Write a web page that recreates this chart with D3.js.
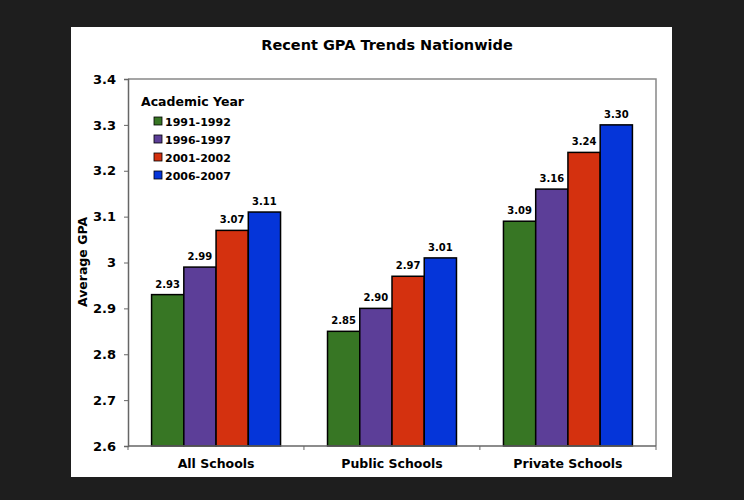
<!DOCTYPE html>
<html>
<head>
<meta charset="utf-8">
<script src="https://cdn.jsdelivr.net/npm/d3@7"></script>
<style>
  body { margin: 0; background: #1e1e1e; }
  text { font-family: "DejaVu Sans", Verdana, sans-serif; font-weight: bold; fill: #000; }
</style>
</head>
<body>
<div id="chart"></div>
<script>
// Données
const ecoles = ["All Schools", "Public Schools", "Private Schools"];
const annees = ["1991-1992", "1996-1997", "2001-2002", "2006-2007"];
const couleurs = ["#377624", "#5c3e98", "#d4310f", "#0535d9"];
const gpa_1991 = [2.93, 2.85, 3.09];
const gpa_1996 = [2.99, 2.90, 3.16];
const gpa_2001 = [3.07, 2.97, 3.24];
const gpa_2006 = [3.11, 3.01, 3.30];
const ticks_y = [2.6, 2.7, 2.8, 2.9, 3.0, 3.1, 3.2, 3.3, 3.4];
const labels_y = ["2.6", "2.7", "2.8", "2.9", "3", "3.1", "3.2", "3.3", "3.4"];

const series = [gpa_1991, gpa_1996, gpa_2001, gpa_2006];

const svg = d3.select("#chart").append("svg")
  .attr("width", 744).attr("height", 500);

svg.append("rect").attr("width", 744).attr("height", 500).attr("fill", "#1e1e1e");
// panneau blanc
svg.append("rect").attr("x", 71).attr("y", 27).attr("width", 601).attr("height", 450).attr("fill", "#fff");

const gauche = 128, droite = 656, haut = 79, bas = 446;

const x = d3.scaleBand().domain(ecoles).range([gauche, droite]).paddingInner(0.267).paddingOuter(0.134);
const xs = d3.scaleBand().domain(annees).range([0, x.bandwidth()]);
const y = d3.scaleLinear().domain([2.6, 3.4]).range([bas, haut]);

svg.append("text").attr("x", 387).attr("y", 50).attr("text-anchor", "middle")
  .style("font-size", "14.5px").text("Recent GPA Trends Nationwide");

// cadre de la zone de tracé
svg.append("path")
  .attr("d", `M${gauche},${haut} H${droite} V${bas}`)
  .attr("fill", "none").attr("stroke", "#888").attr("stroke-width", 1.5);

// barres
series.forEach((valeurs, i) => {
  svg.append("g").selectAll("rect").data(valeurs).join("rect")
    .attr("x", (d, j) => x(ecoles[j]) + xs(annees[i]))
    .attr("y", d => y(d))
    .attr("width", xs.bandwidth())
    .attr("height", d => y(2.6) - y(d))
    .attr("fill", couleurs[i])
    .attr("stroke", "#000").attr("stroke-width", 1.5);
  svg.append("g").selectAll("text").data(valeurs).join("text")
    .attr("x", (d, j) => x(ecoles[j]) + xs(annees[i]) + xs.bandwidth() / 2)
    .attr("y", d => y(d) - 7)
    .attr("text-anchor", "middle")
    .style("font-size", "10px")
    .text(d => d.toFixed(2));
});

// axe Y
const axeY = svg.append("g").attr("transform", `translate(${gauche},0)`)
  .call(d3.axisLeft(y).tickValues(ticks_y).tickSize(4).tickPadding(8)
    .tickFormat((d, i) => labels_y[i]));
axeY.select(".domain").attr("stroke", "#666").attr("stroke-width", 1.5);
axeY.selectAll(".tick line").attr("stroke", "#666");
axeY.selectAll("text").style("font-size", "13px").style("font-family", "DejaVu Sans").style("font-weight", "bold").attr("fill", "#000");

// axe X
const bornes = [gauche, x.step() + gauche, 2 * x.step() + gauche, droite];
const axeX = svg.append("g").attr("transform", `translate(0,${bas})`);
axeX.append("line").attr("x1", gauche).attr("x2", droite).attr("stroke", "#666").attr("stroke-width", 1.5);
axeX.selectAll("line.t").data(bornes).join("line").attr("class", "t")
  .attr("x1", d => d).attr("x2", d => d).attr("y1", 0).attr("y2", 4).attr("stroke", "#666");
axeX.selectAll("text").data(ecoles).join("text")
  .attr("x", d => x(d) + x.bandwidth() / 2).attr("y", 22)
  .attr("text-anchor", "middle").style("font-size", "12.5px").text(d => d);

svg.append("text").attr("transform", "translate(87,262) rotate(-90)")
  .attr("text-anchor", "middle").style("font-size", "12.5px").text("Average GPA");

// légende
const legende = svg.append("g");
legende.append("text").attr("x", 141).attr("y", 106).style("font-size", "12.5px").text("Academic Year");
annees.forEach((a, i) => {
  const yy = 121 + i * 18;
  legende.append("rect").attr("x", 154).attr("y", yy - 4).attr("width", 8).attr("height", 8)
    .attr("fill", couleurs[i]).attr("stroke", "#000").attr("stroke-width", 0.8);
  legende.append("text").attr("x", 165).attr("y", yy + 4.5).style("font-size", "11px").text(a);
});
</script>
</body>
</html>
